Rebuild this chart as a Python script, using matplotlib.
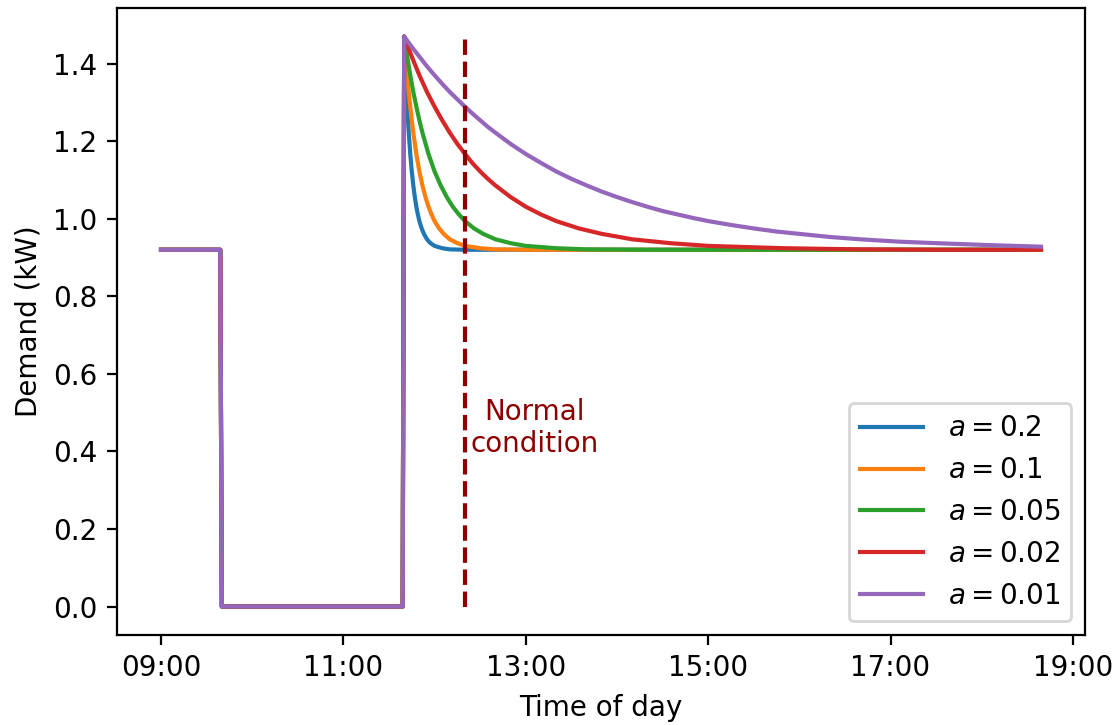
import matplotlib
matplotlib.use("Agg")
import matplotlib.pyplot as plt
import numpy as np

# Shared profile before the rebound (minutes since midnight)
pre_minutes = [540, 579, 580, 699]
pre_values = [0.92, 0.92, 0.0, 0.0]

peak_minute = 700  # 11:40

# Rebound decay (minutes after 11:40, demand kW)
a02_t = [0, 1, 2, 3, 4, 5, 6, 7, 8, 9, 10, 11, 12, 13, 15, 17, 20, 25, 30, 40, 419]
a02_v = [1.47, 1.370, 1.289, 1.222, 1.167, 1.122, 1.086, 1.056, 1.031, 1.011, 0.994,
         0.981, 0.970, 0.961, 0.947, 0.938, 0.930, 0.924, 0.921, 0.920, 0.920]

a01_t = [0, 1, 2, 3, 4, 5, 6, 8, 10, 12, 14, 16, 18, 20, 23, 26, 30, 35, 40, 50, 60, 80, 419]
a01_v = [1.47, 1.418, 1.370, 1.327, 1.289, 1.254, 1.222, 1.167, 1.122, 1.086, 1.056, 1.031,
         1.011, 0.994, 0.975, 0.961, 0.947, 0.937, 0.930, 0.924, 0.921, 0.920, 0.920]

a005_t = [0, 2, 4, 6, 8, 10, 12, 16, 20, 24, 28, 32, 36, 40, 46, 52, 60, 70, 80, 100, 120, 160, 419]
a005_v = [1.47, 1.418, 1.370, 1.327, 1.289, 1.254, 1.222, 1.167, 1.122, 1.086, 1.056, 1.031,
          1.011, 0.994, 0.975, 0.961, 0.947, 0.937, 0.930, 0.924, 0.921, 0.920, 0.920]

a002_t = [0, 5, 10, 15, 20, 25, 30, 35, 40, 45, 50, 55, 60, 70, 80, 90, 100, 115, 130, 150,
          175, 200, 250, 300, 350, 419]
a002_v = [1.47, 1.418, 1.370, 1.327, 1.289, 1.254, 1.222, 1.193, 1.167, 1.143, 1.122, 1.103,
          1.086, 1.056, 1.031, 1.011, 0.994, 0.975, 0.961, 0.947, 0.937, 0.930, 0.924, 0.921,
          0.920, 0.920]

a001_t = [0, 5, 10, 15, 20, 25, 30, 35, 40, 45, 50, 55, 60, 70, 80, 90, 100, 110, 120, 130,
          140, 150, 160, 170, 180, 190, 200, 215, 230, 245, 260, 280, 300, 325, 350, 385, 419]
a001_v = [1.47, 1.443, 1.418, 1.393, 1.370, 1.348, 1.327, 1.308, 1.289, 1.271, 1.254, 1.237,
          1.222, 1.193, 1.167, 1.144, 1.122, 1.103, 1.086, 1.070, 1.056, 1.043, 1.031, 1.020,
          1.011, 1.002, 0.994, 0.984, 0.975, 0.967, 0.961, 0.953, 0.947, 0.941, 0.937, 0.932,
          0.928]

series_labels = ["$a = 0.2$", "$a = 0.1$", "$a = 0.05$", "$a = 0.02$", "$a = 0.01$"]
series_t = [a02_t, a01_t, a005_t, a002_t, a001_t]
series_v = [a02_v, a01_v, a005_v, a002_v, a001_v]

normal_minute = 740  # 12:20
normal_top = 1.47

tick_hours = [9, 11, 13, 15, 17, 19]
tick_labels = ["09:00", "11:00", "13:00", "15:00", "17:00", "19:00"]

fig = plt.figure(figsize=(1119 / 200, 725 / 200), dpi=200)
ax = fig.add_axes([117 / 1119, 90 / 725, (1085 - 117) / 1119, (635 - 8) / 725])

for lab, t, v in zip(series_labels, series_t, series_v):
    x = np.array(pre_minutes + [peak_minute + tt for tt in t]) / 60.0
    y = np.array(pre_values + v)
    ax.plot(x, y, label=lab, lw=1.5)

ax.vlines(normal_minute / 60.0, 0, normal_top, colors="darkred", linestyles="--", lw=1.5)
ax.text(786 / 60.0, 0.46, "Normal\ncondition", color="darkred", fontsize=10,
        ha="center", va="center", multialignment="center")

ax.set_xticks(tick_hours)
ax.set_xticklabels(tick_labels)
ax.set_xlabel("Time of day")
ax.set_ylabel("Demand (kW)")
ax.legend(loc="lower right", handlelength=2.25, handletextpad=0.9)

fig.savefig("out.png", dpi=200)
